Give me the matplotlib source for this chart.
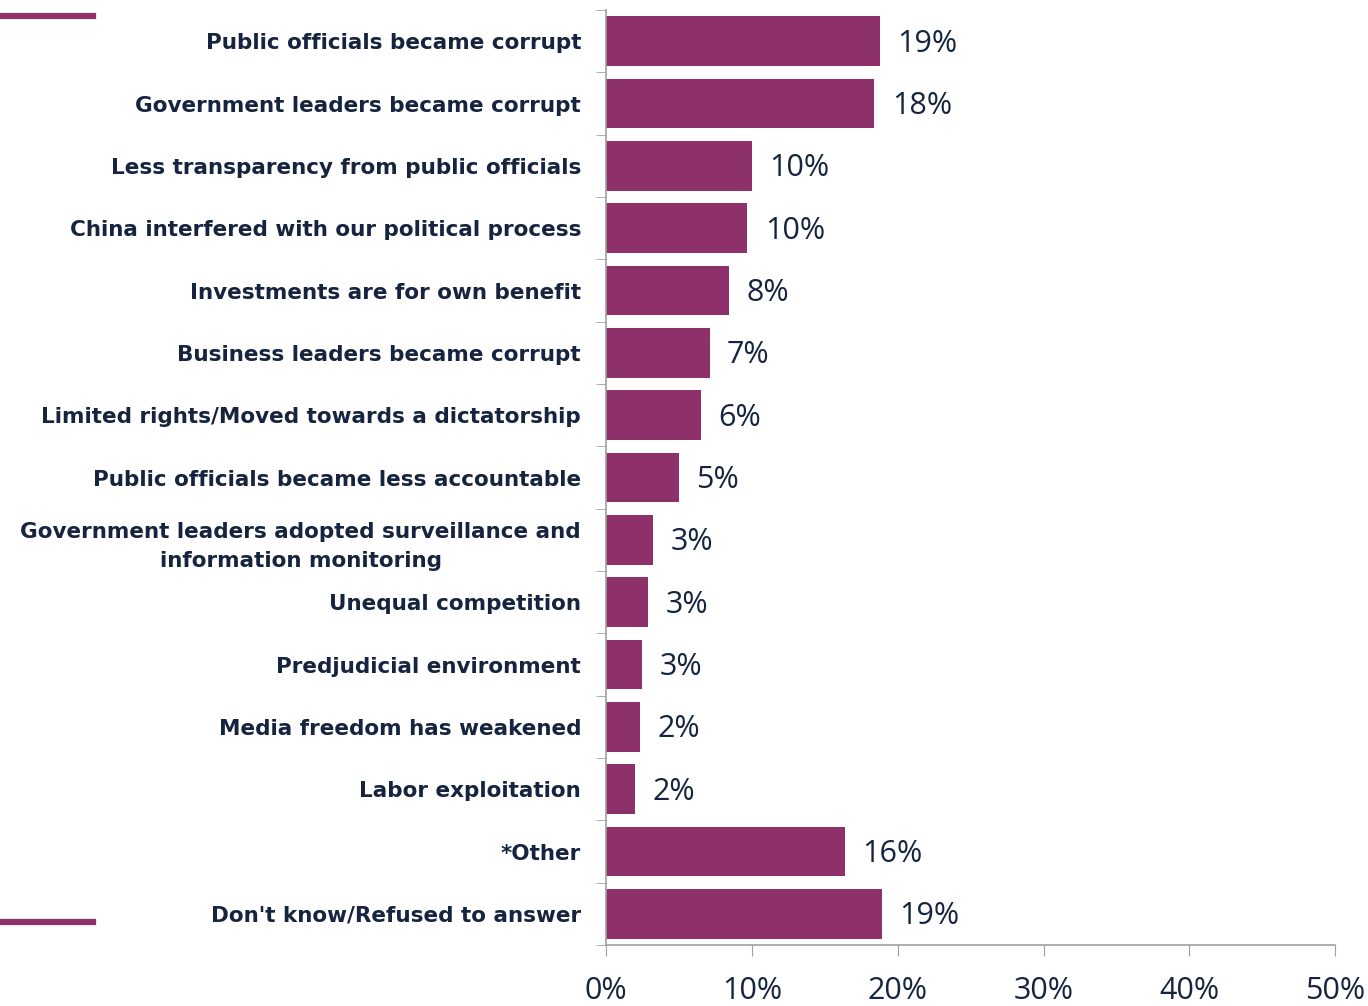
import matplotlib.pyplot as plt
from matplotlib.lines import Line2D
from matplotlib.ticker import FixedLocator, PercentFormatter
import numpy as np

categories = [
    "Public officials became corrupt",
    "Government leaders became corrupt",
    "Less transparency from public officials",
    "China interfered with our political process",
    "Investments are for own benefit",
    "Business leaders became corrupt",
    "Limited rights/Moved towards a dictatorship",
    "Public officials became less accountable",
    "Government leaders adopted surveillance and\ninformation monitoring",
    "Unequal competition",
    "Predjudicial environment",
    "Media freedom has weakened",
    "Labor exploitation",
    "*Other",
    "Don't know/Refused to answer",
]
values = [18.8, 18.4, 10.0, 9.7, 8.4, 7.1, 6.5, 5.0, 3.2, 2.9, 2.5, 2.3, 2.0, 16.4, 18.9]
labels = ["19%", "18%", "10%", "10%", "8%", "7%", "6%", "5%", "3%", "3%", "3%", "2%", "2%", "16%", "19%"]

bar_color = "#8E3069"
text_color = "#16243F"
axis_color = "#A0A0A0"

fig = plt.figure(figsize=(13.68, 10.06), dpi=100)
ax = fig.add_axes([0.443, 0.0606, 0.533, 0.9294])

y = np.arange(len(categories))
ax.barh(y, values, height=0.8, color=bar_color)
ax.set_ylim(len(categories) - 0.5, -0.5)
ax.set_xlim(0, 50)

for yi, v, lab in zip(y, values, labels):
    ax.text(v + 1.2, yi + 0.04, lab, va="center", ha="left", fontsize=22,
            color=text_color, family="Open Sans")

ax.set_yticks(y)
ax.set_yticklabels(categories, fontsize=15.5, fontweight="bold", color=text_color,
                   linespacing=1.55)
for t in ax.get_yticklabels():
    t.set_multialignment("center")
ax.tick_params(axis="y", which="major", length=0, pad=18)
ax.yaxis.set_minor_locator(FixedLocator(np.arange(-0.5, len(categories), 1)))
ax.tick_params(axis="y", which="minor", length=7, color=axis_color, direction="out")

ax.set_xticks(np.arange(0, 51, 10))
ax.xaxis.set_major_formatter(PercentFormatter(decimals=0))
ax.tick_params(axis="x", length=8, color=axis_color, labelsize=22, labelcolor=text_color, pad=14)
for t in ax.get_xticklabels():
    t.set_family("Open Sans")

for s in ["top", "right"]:
    ax.spines[s].set_visible(False)
ax.spines["left"].set_color(axis_color)
ax.spines["bottom"].set_color(axis_color)
ax.spines["left"].set_linewidth(1.2)
ax.spines["bottom"].set_linewidth(1.2)

# decorative accent lines on the left edge
fig.add_artist(Line2D([0, 0.068], [1 - 16 / 1006] * 2, color=bar_color, lw=4.5, transform=fig.transFigure))
fig.add_artist(Line2D([0, 0.068], [1 - 922 / 1006] * 2, color=bar_color, lw=4.5, transform=fig.transFigure))

fig.savefig("out.png", dpi=100)
